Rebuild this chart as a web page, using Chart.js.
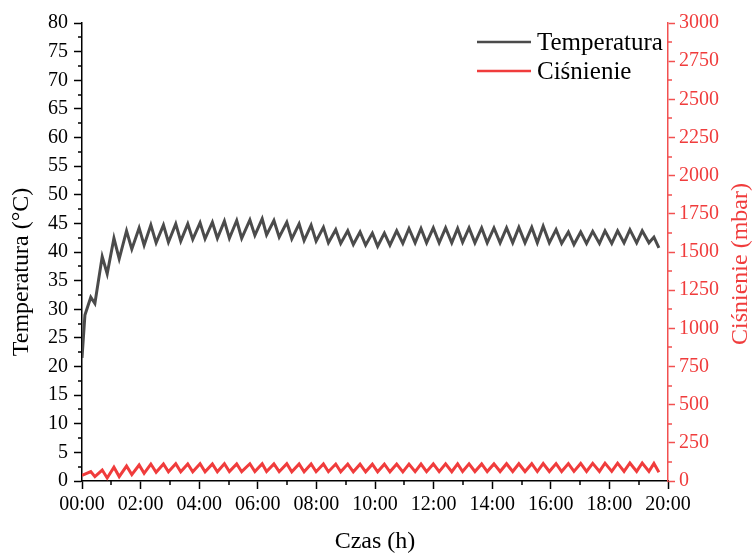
<!DOCTYPE html>
<html><head><meta charset="utf-8">
<script src="https://cdn.jsdelivr.net/npm/chart.js@4"></script>
<style>html,body{margin:0;padding:0;background:#fff}</style>
</head><body>
<canvas id="c" width="755" height="554"></canvas>
<script>
// time in hours (peak / trough points)
const timeHours = [
  0, 0.10,
  0.30, 0.44, 0.69, 0.86, 1.09, 1.27, 1.52, 1.70, 1.95, 2.12,
  2.35, 2.53, 2.78, 2.95, 3.20, 3.37, 3.61, 3.78, 4.03, 4.20,
  4.45, 4.62, 4.86, 5.03, 5.28, 5.45, 5.73, 5.90, 6.15, 6.30,
  6.55, 6.73, 6.99, 7.16, 7.41, 7.58, 7.82, 7.99, 8.24, 8.41,
  8.66, 8.83, 9.07, 9.26, 9.49, 9.68, 9.91, 10.09, 10.32, 10.51,
  10.74, 10.95, 11.16, 11.37, 11.57, 11.76, 11.99, 12.19, 12.41, 12.62,
  12.82, 12.99, 13.21, 13.41, 13.64, 13.83, 14.06, 14.27, 14.49, 14.70,
  14.91, 15.12, 15.35, 15.54, 15.74, 15.95, 16.18, 16.37, 16.60, 16.79,
  17.02, 17.22, 17.43, 17.66, 17.85, 18.08, 18.28, 18.50, 18.70, 18.93,
  19.12, 19.35, 19.52, 19.69
];
const temperature = [
  21.5, 29.0,
  32.1, 31.0, 39.2, 36.2, 42.4, 38.8, 43.7, 40.5, 44.2, 41.2,
  44.7, 41.6, 44.7, 41.7, 44.9, 41.9, 44.9, 42.2, 45.1, 42.3,
  45.2, 42.4, 45.4, 42.4, 45.5, 42.4, 45.6, 42.9, 45.8, 43.0,
  45.5, 42.6, 45.2, 42.3, 44.9, 42.0, 44.7, 41.9, 44.3, 41.6,
  43.9, 41.5, 43.7, 41.3, 43.5, 41.2, 43.3, 41.0, 43.3, 41.2,
  43.7, 41.5, 44.1, 41.6, 44.1, 41.6, 44.2, 41.6, 44.2, 41.6,
  44.1, 41.7, 44.2, 41.6, 44.2, 41.6, 44.2, 41.6, 44.2, 41.6,
  44.3, 41.6, 44.3, 41.6, 44.5, 41.6, 43.9, 41.5, 43.5, 41.3,
  43.5, 41.5, 43.6, 41.5, 43.7, 41.5, 43.7, 41.6, 43.9, 41.6,
  43.7, 41.6, 42.6, 40.7
];
const pressure = [
  36, 45,
  62, 29, 72, 20, 90, 29, 98, 42, 105, 50,
  111, 57, 112, 60, 113, 60, 112, 61, 113, 61,
  112, 61, 113, 62, 112, 61, 113, 62, 113, 62,
  112, 61, 113, 61, 112, 61, 112, 61, 112, 61,
  111, 60, 111, 60, 110, 60, 110, 60, 110, 60,
  111, 60, 111, 61, 111, 61, 112, 61, 112, 61,
  112, 62, 112, 62, 112, 62, 112, 62, 113, 62,
  113, 62, 113, 62, 114, 62, 114, 62, 114, 63,
  115, 63, 116, 63, 117, 63, 117, 63, 118, 63,
  118, 63, 115, 58
];
const seriesLabels = ['Temperatura', 'Ciśnienie'];
const axisTitles = { x: 'Czas (h)', y: 'Temperatura (°C)', y1: 'Ciśnienie (mbar)' };
const xMinorTicks = [1, 3, 5, 7, 9, 11, 13, 15, 17, 19];
const yMinorTicks = [2.5, 7.5, 12.5, 17.5, 22.5, 27.5, 32.5, 37.5, 42.5, 47.5, 52.5, 57.5, 62.5, 67.5, 72.5, 77.5];
const y1MinorTicks = [125, 375, 625, 875, 1125, 1375, 1625, 1875, 2125, 2375, 2625, 2875];

const FONT = "'Liberation Serif', 'Times New Roman', serif";
const GRAY = '#4b4b4b';
const RED = '#f03c3c';
const AXRED = '#f25050';
Chart.defaults.font.family = FONT;
Chart.defaults.color = '#000';

const minorTicksPlugin = {
  id: 'minorTicks',
  afterDraw(chart) {
    const ctx = chart.ctx, a = chart.chartArea;
    const sx = chart.scales.x, sy = chart.scales.y, sy1 = chart.scales.y1;
    ctx.save();
    ctx.lineWidth = 1.5;
    ctx.strokeStyle = '#000';
    ctx.beginPath();
    xMinorTicks.forEach(v => { const p = Math.round(sx.getPixelForValue(v)); ctx.moveTo(p, a.bottom); ctx.lineTo(p, a.bottom + 4); });
    yMinorTicks.forEach(v => { const p = Math.round(sy.getPixelForValue(v)); ctx.moveTo(a.left - 4, p); ctx.lineTo(a.left, p); });
    ctx.stroke();
    ctx.strokeStyle = AXRED;
    ctx.beginPath();
    y1MinorTicks.forEach(v => { const p = Math.round(sy1.getPixelForValue(v)); ctx.moveTo(a.right, p); ctx.lineTo(a.right + 4, p); });
    ctx.stroke();
    ctx.restore();
  }
};

const titlesPlugin = {
  id: 'sideTitles',
  afterDraw(chart) {
    const ctx = chart.ctx, a = chart.chartArea;
    ctx.save();
    ctx.font = '24px ' + FONT;
    ctx.textAlign = 'center';
    ctx.textBaseline = 'middle';
    ctx.fillStyle = '#000';
    ctx.save(); ctx.translate(22, 272); ctx.rotate(-Math.PI / 2); ctx.fillText(axisTitles.y, 0, 0); ctx.restore();
    ctx.fillStyle = RED;
    ctx.save(); ctx.translate(741, 264); ctx.rotate(-Math.PI / 2); ctx.fillText(axisTitles.y1, 0, 0); ctx.restore();
    ctx.restore();
  }
};

const legendPlugin = {
  id: 'innerLegend',
  afterDraw(chart) {
    const ctx = chart.ctx;
    ctx.save();
    ctx.font = '25px ' + FONT;
    ctx.textBaseline = 'middle';
    ctx.textAlign = 'left';
    chart.data.datasets.forEach((ds, i) => {
      const y = 42 + i * 29;
      ctx.strokeStyle = ds.borderColor;
      ctx.lineWidth = 2.5;
      ctx.beginPath(); ctx.moveTo(477, y); ctx.lineTo(531, y); ctx.stroke();
      ctx.fillStyle = '#000';
      ctx.fillText(ds.label, 537, y + 1);
    });
    ctx.restore();
  }
};

new Chart(document.getElementById('c'), {
  type: 'line',
  data: {
    datasets: [
      { label: seriesLabels[0], data: timeHours.map((t, i) => ({ x: t, y: temperature[i] })),
        borderColor: GRAY, borderWidth: 3, pointRadius: 0, tension: 0, yAxisID: 'y' },
      { label: seriesLabels[1], data: timeHours.map((t, i) => ({ x: t, y: pressure[i] })),
        borderColor: RED, borderWidth: 3, pointRadius: 0, tension: 0, yAxisID: 'y1' }
    ]
  },
  options: {
    responsive: false,
    devicePixelRatio: 1,
    animation: false,
    layout: { padding: { top: 23, left: 0, right: 0, bottom: 0 } },
    plugins: { legend: { display: false }, tooltip: { enabled: false } },
    scales: {
      x: {
        type: 'linear', position: 'bottom', min: 0, max: 20,
        ticks: { stepSize: 2, autoSkip: false, maxRotation: 0, padding: 4, color: '#000', font: { size: 20 },
          callback: v => String(v).padStart(2, '0') + ':00' },
        grid: { display: true, drawOnChartArea: false, drawTicks: true, tickLength: 8, tickColor: '#000', tickWidth: 1.5 },
        border: { display: true, color: '#000', width: 1.5 },
        title: { display: true, text: axisTitles.x, color: '#000', font: { size: 24, lineHeight: 1 }, padding: 0 },
        afterFit: s => { s.height = 73; }
      },
      y: {
        type: 'linear', position: 'left', min: 0, max: 80,
        ticks: { stepSize: 5, padding: 6, color: '#000', font: { size: 20 }, callback: v => String(v) },
        grid: { display: true, drawOnChartArea: false, drawTicks: true, tickLength: 8, tickColor: '#000', tickWidth: 1.5 },
        border: { display: true, color: '#000', width: 1.5 },
        afterFit: s => { s.width = 82; }
      },
      y1: {
        type: 'linear', position: 'right', min: 0, max: 3000,
        ticks: { stepSize: 250, padding: 4, color: RED, font: { size: 20 }, callback: v => String(v) },
        grid: { display: true, drawOnChartArea: false, drawTicks: true, tickLength: 7, tickColor: AXRED, tickWidth: 1.5 },
        border: { display: true, color: AXRED, width: 1.5 },
        afterFit: s => { s.width = 87; }
      }
    }
  },
  plugins: [minorTicksPlugin, titlesPlugin, legendPlugin]
});
</script>
</body></html>
